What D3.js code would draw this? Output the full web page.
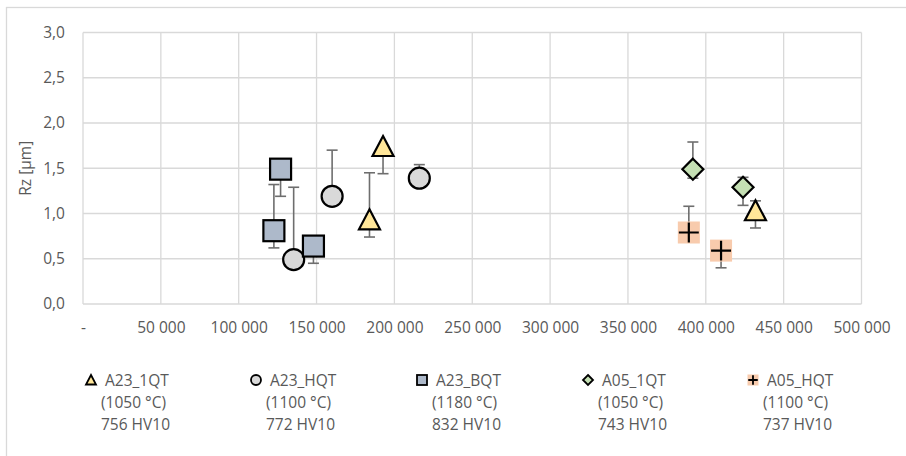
<!DOCTYPE html>
<html>
<head>
<meta charset="utf-8">
<script src="https://cdn.jsdelivr.net/npm/d3@7"></script>
<style>
  html, body { margin: 0; padding: 0; background: #fff; }
  svg { display: block; font-family: "Open Sans", "Noto Sans", sans-serif; }
</style>
</head>
<body>
<svg id="chart" width="906" height="456"></svg>
<script>
// Series labels (three-line legend entries)
const seriesNames = ["A23_1QT", "A23_HQT", "A23_BQT", "A05_1QT", "A05_HQT"];
const seriesTemps = ["(1050 °C)", "(1100 °C)", "(1180 °C)", "(1050 °C)", "(1100 °C)"];
const seriesHardness = ["756 HV10", "772 HV10", "832 HV10", "743 HV10", "737 HV10"];

// A23_1QT
const a23_1qtX = [184000, 192700, 431900];
const a23_1qtY = [0.93, 1.74, 1.03];
const a23_1qtPlus = [0.52, 0, 0.11];
const a23_1qtMinus = [0.19, 0.30, 0.19];

// A23_HQT
const a23_hqtX = [135300, 160000, 216000];
const a23_hqtY = [0.49, 1.19, 1.39];
const a23_hqtPlus = [0.80, 0.51, 0.15];
const a23_hqtMinus = [0, 0, 0];

// A23_BQT
const a23_bqtX = [122600, 126900, 148000];
const a23_bqtY = [0.81, 1.49, 0.64];
const a23_bqtPlus = [0.51, 0, 0];
const a23_bqtMinus = [0.19, 0.30, 0.19];

// A05_1QT
const a05_1qtX = [391700, 423900];
const a05_1qtY = [1.49, 1.29];
const a05_1qtPlus = [0.30, 0.11];
const a05_1qtMinus = [0.10, 0.20];

// A05_HQT
const a05_hqtX = [389100, 409800];
const a05_hqtY = [0.79, 0.59];
const a05_hqtPlus = [0.29, 0];
const a05_hqtMinus = [0, 0.19];

// Axis ticks
const xTicks = [0, 50000, 100000, 150000, 200000, 250000, 300000, 350000, 400000, 450000, 500000];
const yTicks = [0, 0.5, 1.0, 1.5, 2.0, 2.5, 3.0];
const yTitle = "Rz [µm]";

const seriesShapes = ["triangle", "circle", "square", "diamond", "plus"];
const seriesFills = ["#FFE699", "#D9D9D9", "#ADB9CA", "#C5E0B4", "#F8CBAD"];

const raw = [
  [a23_1qtX, a23_1qtY, a23_1qtPlus, a23_1qtMinus],
  [a23_hqtX, a23_hqtY, a23_hqtPlus, a23_hqtMinus],
  [a23_bqtX, a23_bqtY, a23_bqtPlus, a23_bqtMinus],
  [a05_1qtX, a05_1qtY, a05_1qtPlus, a05_1qtMinus],
  [a05_hqtX, a05_hqtY, a05_hqtPlus, a05_hqtMinus]
];
const series = raw.map((r, i) => ({
  name: seriesNames[i],
  shape: seriesShapes[i],
  fill: seriesFills[i],
  points: r[0].map((x, j) => ({ x, y: r[1][j], plus: r[2][j], minus: r[3][j] }))
}));

const locale = d3.formatLocale({ decimal: ",", thousands: " ", grouping: [3], currency: ["", ""] });
const fmtX = d => d === 0 ? "-" : locale.format(",")(d);
const fmtY = locale.format(".1f");

const svg = d3.select("#chart");
const textColor = "#595959";
const gridColor = "#D9D9D9";
const fontSize = "15.5px";

// Chart area border
svg.append("rect")
  .attr("x", 6.5).attr("y", 7.5).attr("width", 920).attr("height", 470)
  .attr("fill", "none").attr("stroke", gridColor).attr("stroke-width", 1.3);

const plot = { left: 83, right: 861.5, top: 32.5, bottom: 304 };
const x = d3.scaleLinear().domain([0, 500000]).range([plot.left, plot.right]);
const y = d3.scaleLinear().domain([0, 3]).range([plot.bottom, plot.top]);

// Grid
const grid = svg.append("g").attr("stroke", gridColor).attr("stroke-width", 1.3);
grid.selectAll("line.h").data(yTicks).join("line")
  .attr("x1", plot.left).attr("x2", plot.right)
  .attr("y1", d => y(d)).attr("y2", d => y(d));
grid.selectAll("line.v").data(xTicks).join("line")
  .attr("x1", d => x(d)).attr("x2", d => x(d))
  .attr("y1", plot.top).attr("y2", plot.bottom);

// Axes (labels only)
const xAxis = svg.append("g")
  .attr("transform", `translate(0,${plot.bottom})`)
  .call(d3.axisBottom(x).tickValues(xTicks).tickFormat(fmtX).tickSize(0).tickPadding(18));
const yAxis = svg.append("g")
  .attr("transform", `translate(${plot.left},0)`)
  .call(d3.axisLeft(y).tickValues(yTicks).tickFormat(fmtY).tickSize(0).tickPadding(18));
[xAxis, yAxis].forEach(a => {
  a.select(".domain").remove();
  a.selectAll("text").attr("fill", textColor).style("font-size", fontSize).style("font-family", "'Open Sans', sans-serif");
});

svg.append("text")
  .attr("transform", `translate(31,${(plot.top + plot.bottom) / 2}) rotate(-90)`)
  .attr("text-anchor", "middle")
  .attr("fill", textColor)
  .style("font-size", fontSize)
  .text(yTitle);

// Error bars
const errColor = "#6E6E6E";
const capHalf = 5.5;
const errG = svg.append("g").attr("stroke", errColor).attr("stroke-width", 1.6);
series.forEach(s => {
  s.points.forEach(p => {
    const cx = x(p.x);
    if (p.plus > 0) {
      errG.append("line").attr("x1", cx).attr("x2", cx).attr("y1", y(p.y)).attr("y2", y(p.y + p.plus));
      errG.append("line").attr("x1", cx - capHalf).attr("x2", cx + capHalf).attr("y1", y(p.y + p.plus)).attr("y2", y(p.y + p.plus));
    }
    if (p.minus > 0) {
      errG.append("line").attr("x1", cx).attr("x2", cx).attr("y1", y(p.y)).attr("y2", y(p.y - p.minus));
      errG.append("line").attr("x1", cx - capHalf).attr("x2", cx + capHalf).attr("y1", y(p.y - p.minus)).attr("y2", y(p.y - p.minus));
    }
  });
});

// Marker drawing
function drawMarker(g, shape, fill, size, sw) {
  const h = size / 2;
  if (shape === "triangle") {
    g.append("path").attr("d", `M0,${-h}L${h},${h * 0.9}L${-h},${h * 0.9}Z`)
      .attr("fill", fill).attr("stroke", "#000").attr("stroke-width", sw).attr("stroke-linejoin", "miter");
  } else if (shape === "circle") {
    g.append("circle").attr("r", h).attr("fill", fill).attr("stroke", "#000").attr("stroke-width", sw);
  } else if (shape === "square") {
    g.append("rect").attr("x", -h).attr("y", -h).attr("width", size).attr("height", size)
      .attr("fill", fill).attr("stroke", "#000").attr("stroke-width", sw);
  } else if (shape === "diamond") {
    g.append("path").attr("d", `M0,${-h}L${h},0L0,${h}L${-h},0Z`)
      .attr("fill", fill).attr("stroke", "#000").attr("stroke-width", sw);
  } else if (shape === "plus") {
    g.append("rect").attr("x", -h - 0.5).attr("y", -h - 0.5).attr("width", size + 1).attr("height", size + 1)
      .attr("fill", fill);
    const a = h * 0.95;
    g.append("path").attr("d", `M${-a},0H${a}M0,${-a}V${a}`)
      .attr("stroke", "#000").attr("stroke-width", sw);
  }
}

series.forEach(s => {
  s.points.forEach(p => {
    const g = svg.append("g").attr("transform", `translate(${x(p.x)},${y(p.y)})`);
    drawMarker(g, s.shape, s.fill, 21, 2.2);
  });
});

// Legend
const legendX = [91, 256, 422, 588, 753];
const legendY = 380;
series.forEach((s, i) => {
  const g = svg.append("g").attr("transform", `translate(${legendX[i]},${legendY})`);
  const mg = g.append("g");
  drawMarker(mg, s.shape, s.fill, 10, 1.8);
  const t = g.append("text").attr("fill", textColor).style("font-size", fontSize);
  t.append("tspan").attr("x", 14).attr("y", 5.5).text(seriesNames[i]);
  t.append("tspan").attr("x", 10).attr("y", 27.5).text(seriesTemps[i]);
  t.append("tspan").attr("x", 10).attr("y", 49.5).text(seriesHardness[i]);
});
</script>
</body>
</html>
